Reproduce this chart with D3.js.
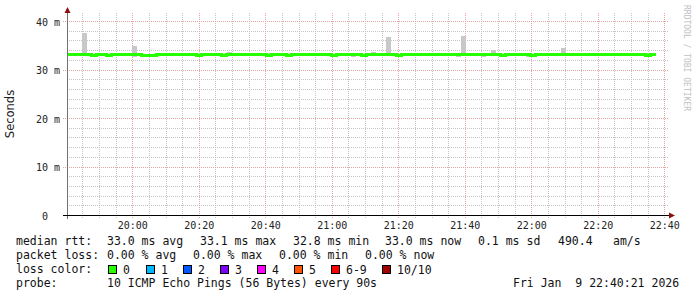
<!DOCTYPE html>
<html>
<head>
<meta charset="utf-8">
<script src="https://cdn.jsdelivr.net/npm/d3@7"></script>
<style>
  body { margin: 0; background: #fff; }
  svg text { font-family: "DejaVu Sans Mono", monospace; white-space: pre; }
</style>
</head>
<body>
<div class="chart"></div>
<script>
// smokeping style latency graph, 3 hours, 90s steps

var width = 697;
var height = 297;

// data (ms), one value per 90s step starting at 19:40:21
var median = [
  33.0,33.0,33.1,33.0,33.0,32.9,33.0,33.0,32.9,33.0,
  33.0,33.0,33.0,33.1,33.0,32.9,32.9,32.9,33.0,33.0,
  33.0,33.0,33.0,33.0,33.0,33.0,32.8,33.0,33.0,33.0,
  33.0,32.9,33.0,33.0,33.0,33.0,33.0,33.0,33.0,33.0,
  32.9,33.0,33.0,33.0,32.9,33.0,33.0,33.0,33.0,33.0,
  33.0,33.0,33.0,32.8,33.0,33.0,33.0,33.0,33.0,32.9,
  33.0,33.0,33.0,33.0,33.0,33.0,32.8,33.0,33.1,33.0,
  33.0,33.0,33.0,33.0,33.0,33.0,33.0,33.0,33.0,33.1,
  33.0,33.0,33.0,33.0,33.0,33.0,33.0,32.9,33.0,33.0,
  33.0,33.0,33.0,32.8,33.0,33.0,33.0,33.0,33.0,33.0,
  33.0,33.0,33.0,33.0,33.0,33.0,33.0,33.0,33.0,33.0,
  33.0,33.0,33.0,33.0,33.0,33.0,32.8,33.0
];
var smokeHi = [
  33.2,33.2,33.4,37.5,33.4,33.2,33.5,33.4,33.2,33.2,
  33.2,33.2,33.4,34.8,33.2,33.2,33.2,33.2,33.2,33.4,
  33.4,33.4,33.2,33.2,33.4,33.2,33.5,33.2,33.2,33.2,
  33.2,33.2,33.6,33.4,33.2,33.2,33.2,33.2,33.4,33.2,
  33.4,33.2,33.2,33.2,33.2,33.2,33.2,33.2,33.2,33.4,
  33.4,33.2,33.4,33.2,33.2,33.2,33.2,33.2,33.2,33.2,
  33.2,33.7,33.2,33.4,36.7,33.2,33.2,33.2,33.2,33.4,
  33.2,33.4,33.2,33.4,33.4,33.2,33.4,33.2,33.4,36.9,
  33.2,33.2,33.2,33.2,33.2,34.0,33.2,33.2,33.2,33.2,
  33.2,33.4,33.2,33.2,33.2,33.4,33.2,33.2,33.2,34.4,
  33.5,33.4,33.2,33.5,33.2,33.2,33.2,33.4,33.4,33.2,
  33.2,33.2,33.4,33.2,33.2,33.2,33.4,33.2
];
var smokeLo = [
  32.9,32.9,32.9,32.9,32.9,32.8,32.9,32.9,32.8,32.9,
  32.9,32.9,32.9,32.5,32.9,32.8,32.8,32.6,32.9,32.9,
  32.9,32.9,32.9,32.9,32.9,32.9,32.7,32.9,32.9,32.9,
  32.9,32.8,32.9,32.9,32.9,32.9,32.9,32.9,32.9,32.9,
  32.6,32.9,32.9,32.9,32.6,32.9,32.9,32.9,32.9,32.9,
  32.9,32.9,32.9,32.7,32.9,32.9,32.9,32.6,32.9,32.6,
  32.9,32.9,32.9,32.9,32.9,32.9,32.7,32.9,32.9,32.9,
  32.9,32.9,32.9,32.9,32.9,32.9,32.9,32.9,32.5,32.9,
  32.9,32.9,32.9,32.6,32.9,32.9,32.9,32.8,32.9,32.9,
  32.9,32.9,32.6,32.7,32.9,32.9,32.9,32.9,32.9,32.9,
  32.9,32.9,32.9,32.9,32.9,32.9,32.9,32.9,32.9,32.9,
  32.9,32.9,32.9,32.9,32.9,32.9,32.7,32.9
];

var yTicks = [0, 10, 20, 30, 40];
var lossLabels = ["0", "1", "2", "3", "4", "5", "6-9", "10/10"];
var lossColors = ["#26ff00", "#00b8ff", "#0059ff", "#7e00ff", "#ff00ff", "#ff5500", "#ff0000", "#a10000"];

var statLines = [
  [["median rtt:", 16], ["33.0 ms avg", 107], ["33.1 ms max", 200], ["32.8 ms min", 293],
   ["33.0 ms now", 385], ["0.1 ms sd", 478], ["490.4", 558], ["am/s", 613]],
  [["packet loss:", 16], ["0.00 % avg", 107], ["0.00 % max", 193], ["0.00 % min", 279],
   ["0.00 % now", 365]],
  [["loss color:", 16]],
  [["probe:", 16], ["10 ICMP Echo Pings (56 Bytes) every 90s", 107], ["Fri Jan  9 22:40:21 2026", 513]]
];

var startTime = new Date(2026, 0, 9, 19, 40, 21);
var endTime = new Date(2026, 0, 9, 22, 40, 21);
var stepMs = 90 * 1000;

var plot = { left: 67, right: 665.5, top: 13, bottom: 215 };

const svg = d3.select(".chart")
  .append("svg")
  .attr("width", width)
  .attr("height", height);

svg.append("rect").attr("width", width).attr("height", height).attr("fill", "#fff");

var x = d3.scaleTime()
  .domain([startTime, endTime])
  .range([plot.left, plot.right]);

var y = d3.scaleLinear()
  .domain([0, 41.65])
  .range([plot.bottom, plot.top]);

var px = v => Math.round(v) + 0.5;

// grid
var grid = svg.append("g").attr("shape-rendering", "crispEdges");

var minorY = d3.range(2, 41, 2).filter(v => v % 10 !== 0);
grid.selectAll(".hminor")
  .data(minorY)
  .enter().append("line")
  .attr("x1", plot.left).attr("x2", 668)
  .attr("y1", d => px(y(d))).attr("y2", d => px(y(d)))
  .attr("stroke", "#c4c4c4").attr("stroke-dasharray", "1,1");

var minorX = d3.timeMinute.every(5).range(startTime, endTime).filter(d => d.getMinutes() % 20 !== 0);
grid.selectAll(".vminor")
  .data(minorX)
  .enter().append("line")
  .attr("x1", d => px(x(d))).attr("x2", d => px(x(d)))
  .attr("y1", plot.top).attr("y2", plot.bottom + 3)
  .attr("stroke", "#c4c4c4").attr("stroke-dasharray", "1,1");

grid.selectAll(".hmajor")
  .data(yTicks.filter(d => d > 0))
  .enter().append("line")
  .attr("x1", 63).attr("x2", 668)
  .attr("y1", d => px(y(d))).attr("y2", d => px(y(d)))
  .attr("stroke", "#e4a4a4").attr("stroke-dasharray", "1,1");

var majorX = d3.timeMinute.every(20).range(startTime, d3.timeSecond.offset(endTime, 1));
grid.selectAll(".vmajor")
  .data(majorX)
  .enter().append("line")
  .attr("x1", d => px(x(d))).attr("x2", d => px(x(d)))
  .attr("y1", plot.top).attr("y2", plot.bottom + 4)
  .attr("stroke", "#e4a4a4").attr("stroke-dasharray", "1,1");

// smoke
var steps = median.map((m, i) => ({
  t0: new Date(startTime.getTime() + i * stepMs),
  t1: new Date(startTime.getTime() + (i + 1) * stepMs),
  med: m, hi: smokeHi[i], lo: smokeLo[i]
}));

svg.append("g")
  .attr("shape-rendering", "crispEdges")
  .selectAll("rect")
  .data(steps)
  .enter().append("rect")
  .attr("x", d => x(d.t0))
  .attr("width", d => x(d.t1) - x(d.t0))
  .attr("y", d => y(d.hi))
  .attr("height", d => y(d.lo) - y(d.hi))
  .attr("fill", "#c8c8c8");

// median line
var linePts = steps.map(d => [d.t0, d.med]);
linePts.push([steps[steps.length - 1].t1, steps[steps.length - 1].med]);

svg.append("path")
  .datum(linePts)
  .attr("fill", "none")
  .attr("stroke", lossColors[0])
  .attr("stroke-width", 3)
  .attr("shape-rendering", "crispEdges")
  .attr("d", d3.line().x(d => x(d[0])).y(d => y(d[1])).curve(d3.curveStepAfter));

// axes
var yAxis = d3.axisLeft(y)
  .tickValues(yTicks)
  .tickSize(0)
  .tickPadding(7)
  .tickFormat(d => d === 0 ? "0  " : d + " m");

svg.append("g")
  .attr("transform", "translate(" + plot.left + ",0)")
  .call(yAxis)
  .call(g => g.select(".domain").remove())
  .call(g => g.selectAll("text")
    .attr("font-family", "DejaVu Sans Mono").attr("font-size", 10)
    .attr("fill", "#222").attr("dy", "0.42em"));

var xAxis = d3.axisBottom(x)
  .tickValues(majorX)
  .tickSize(0)
  .tickPadding(7)
  .tickFormat(d3.timeFormat("%H:%M"));

svg.append("g")
  .attr("transform", "translate(0," + plot.bottom + ")")
  .call(xAxis)
  .call(g => g.select(".domain").remove())
  .call(g => g.selectAll("text")
    .attr("font-family", "DejaVu Sans Mono").attr("font-size", 10)
    .attr("fill", "#222"));

svg.append("line")
  .attr("x1", plot.left + 0.5).attr("x2", plot.left + 0.5)
  .attr("y1", 9).attr("y2", plot.bottom + 4)
  .attr("stroke", "#707070");
svg.append("line")
  .attr("x1", 63).attr("x2", 670)
  .attr("y1", plot.bottom + 0.5).attr("y2", plot.bottom + 0.5)
  .attr("stroke", "#000");

svg.append("path")
  .attr("d", d3.line()([[plot.left + 0.5, 7], [plot.left - 2.5, 13], [plot.left + 3.5, 13]]))
  .attr("fill", "#8b1010");
svg.append("path")
  .attr("d", d3.line()([[675, plot.bottom + 0.5], [669, plot.bottom - 2.5], [669, plot.bottom + 3.5]]))
  .attr("fill", "#8b1010");

// axis title
svg.append("text")
  .attr("transform", "translate(14,114) rotate(-90)")
  .attr("text-anchor", "middle")
  .attr("font-size", 11.5)
  .attr("fill", "#222")
  .style("font-family", "DejaVu Sans")
  .text("Seconds");

// watermark
svg.append("text")
  .attr("transform", "translate(684,5) rotate(90)")
  .attr("font-size", 8)
  .attr("fill", "#c0c0c0")
  .text("RRDTOOL / TOBI OETIKER");

// legend text
var legend = svg.append("g")
  .attr("font-size", 11.5)
  .attr("fill", "#111");

statLines.forEach((line, li) => {
  legend.selectAll(".l" + li)
    .data(line)
    .enter().append("text")
    .attr("x", d => d[1])
    .attr("y", 245 + li * 14)
    .text(d => d[0]);
});

var lossX = [108, 146, 183, 220, 257, 294, 331, 382];
var lossG = legend.selectAll(".loss")
  .data(lossLabels)
  .enter().append("g")
  .attr("transform", (d, i) => "translate(" + lossX[i] + "," + 265 + ")");

lossG.append("rect")
  .attr("x", 0.5).attr("y", 0.5)
  .attr("width", 8).attr("height", 8)
  .attr("fill", (d, i) => lossColors[i])
  .attr("stroke", "#000");

lossG.append("text")
  .attr("x", 15)
  .attr("y", 9)
  .text(d => d);
</script>
</body>
</html>
